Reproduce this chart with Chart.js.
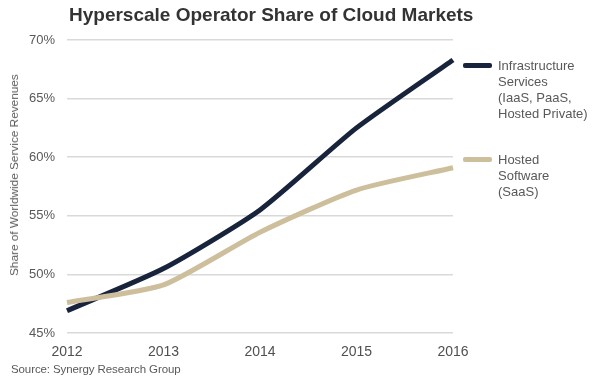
<!DOCTYPE html>
<html>
<head>
<meta charset="utf-8">
<script src="https://cdn.jsdelivr.net/npm/chart.js@4.4.0/dist/chart.umd.min.js"></script>
<style>
  html, body { margin: 0; padding: 0; background: #fff; }
  #wrap { position: relative; width: 600px; height: 382px; font-family: "Liberation Sans", Arial, sans-serif; }
  #c { position: absolute; left: 0; top: 0; }
  .title { position: absolute; left: 69px; top: 4px; font-size: 19px; font-weight: bold; color: #333; white-space: nowrap; }
  .source { position: absolute; left: 11px; top: 363px; font-size: 11.5px; color: #595959; white-space: nowrap; letter-spacing: -0.1px; }
  .ytitle { position: absolute; left: 14px; top: 175px; font-size: 11.8px; color: #595959; white-space: nowrap; transform: translate(-50%, -50%) rotate(-90deg); }
  .leg { position: absolute; left: 463px; width: 130px; }
  .leg .sw { position: absolute; left: 0; width: 29px; height: 5px; border-radius: 2px; }
  .leg .tx { position: absolute; left: 35px; top: 0; font-size: 13px; line-height: 16px; color: #595959; white-space: nowrap; }
</style>
</head>
<body>
<div id="wrap">
  <canvas id="c" width="600" height="382"></canvas>
  <div class="title">Hyperscale Operator Share of Cloud Markets</div>
  <div class="ytitle">Share of Worldwide Service Revenues</div>
  <div class="leg" style="top:58px;"><div class="sw" style="top:5px;background:#17243b;"></div><div class="tx">Infrastructure<br>Services<br>(IaaS, PaaS,<br>Hosted Private)</div></div>
  <div class="leg" style="top:152px;"><div class="sw" style="top:5px;background:#cdbf9c;"></div><div class="tx">Hosted<br>Software<br>(SaaS)</div></div>
  <div class="source">Source: Synergy Research Group</div>
</div>
<script>
const years = ["2012", "2013", "2014", "2015", "2016"];
const infrastructure = [46.9, 50.5, 55.5, 62.5, 68.3];
const saas = [47.6, 49.1, 53.6, 57.2, 59.1];
const yTicks = [45, 50, 55, 60, 65, 70];

new Chart(document.getElementById('c'), {
  type: 'line',
  data: {
    labels: years,
    datasets: [
      { label: 'Hosted Software (SaaS)', data: saas, borderColor: '#cdbf9c', borderWidth: 5, pointRadius: 0, tension: 0.2, borderCapStyle: 'butt' },
      { label: 'Infrastructure Services (IaaS, PaaS, Hosted Private)', data: infrastructure, borderColor: '#17243b', borderWidth: 5, pointRadius: 0, tension: 0.2, borderCapStyle: 'butt' }
    ]
  },
  options: {
    responsive: false,
    animation: false,
    devicePixelRatio: 1,
    layout: { padding: { left: 0, right: 147, top: 40, bottom: 19 } },
    plugins: { legend: { display: false }, tooltip: { enabled: false }, title: { display: false } },
    scales: {
      x: {
        offset: false,
        grid: { display: false },
        border: { display: false },
        ticks: { color: '#505050', font: { family: 'Liberation Sans', size: 14 }, padding: 3, maxRotation: 0 },
        afterFit: s => { s.height = 30; }
      },
      y: {
        min: 45, max: 70,
        afterBuildTicks: s => { s.ticks = yTicks.map(v => ({ value: v })); },
        grid: { color: '#d9d9d9', lineWidth: 1.5, drawTicks: false },
        border: { display: false },
        ticks: { color: '#595959', font: { family: 'Liberation Sans', size: 13 }, padding: 12, callback: v => v + '%' },
        afterFit: s => { s.width = 67; }
      }
    }
  }
});
</script>
</body>
</html>
